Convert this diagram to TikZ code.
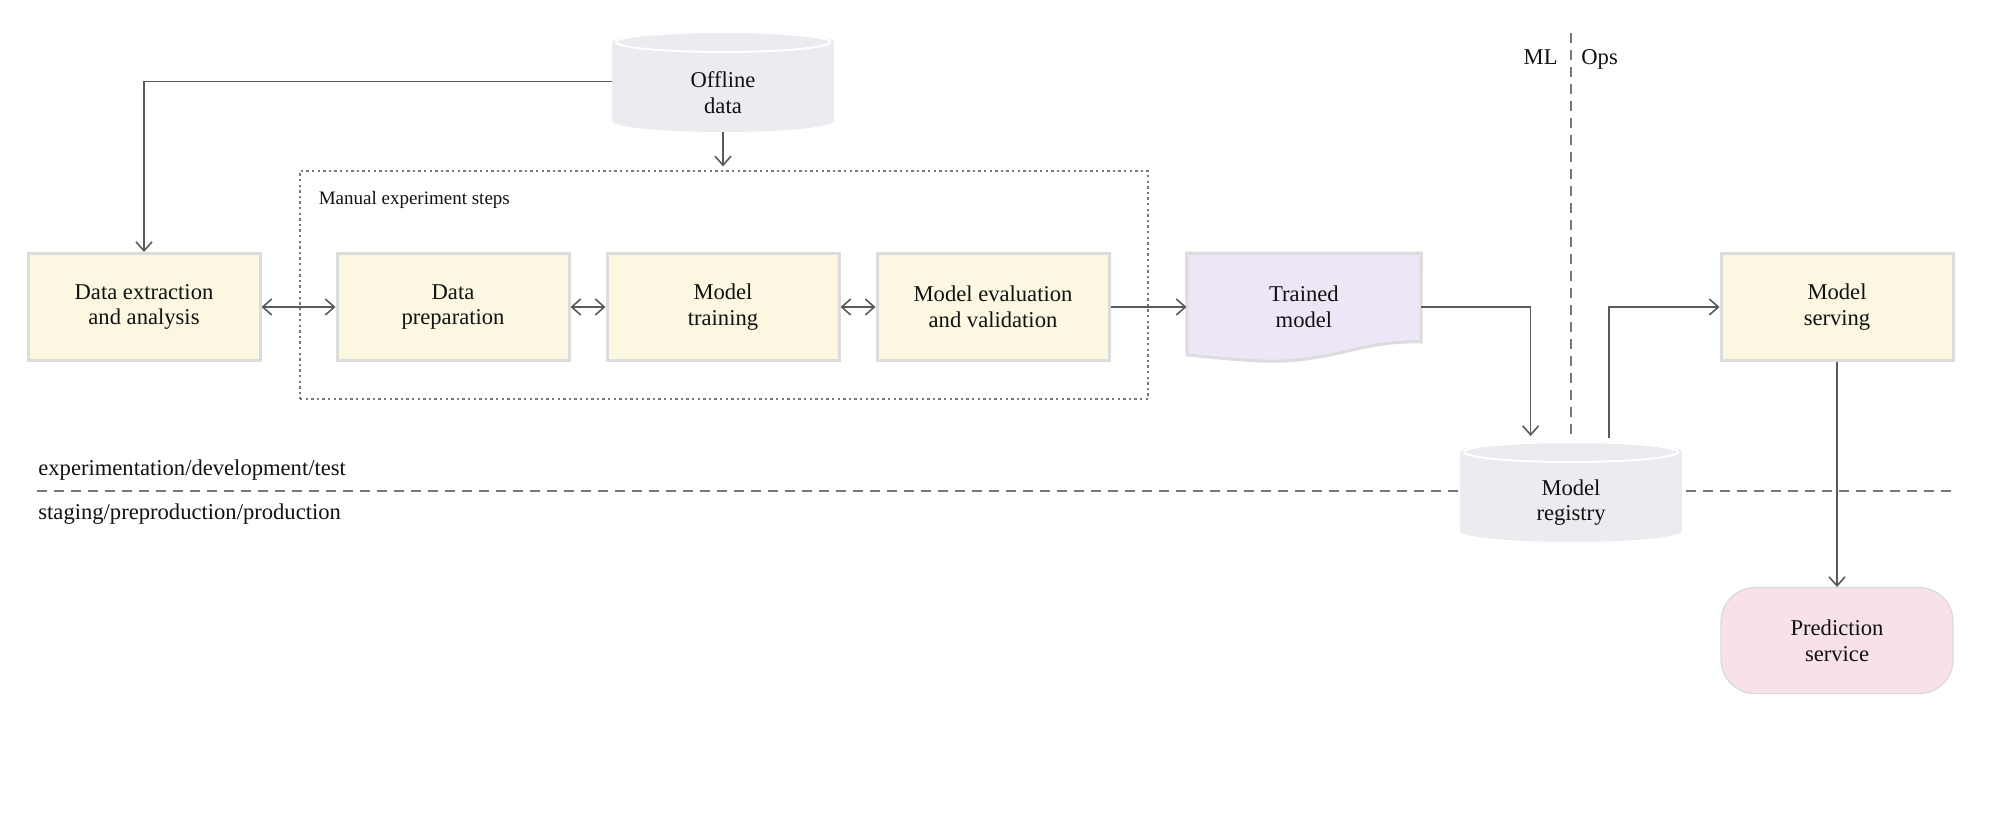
\documentclass[tikz,border=0pt]{standalone}
\usepackage{fontspec}
\setmainfont{Liberation Serif}
\usetikzlibrary{
  arrows.meta,
  positioning,
  calc,
  backgrounds
}
\definecolor{boxfill}{HTML}{FCF7E1}
\definecolor{boxline}{HTML}{DCDCDC}
\definecolor{dbfill}{HTML}{EBECEF}
\definecolor{modelfill}{HTML}{ECE6F6}
\definecolor{predfill}{HTML}{F9E1EB}
\definecolor{predline}{HTML}{D9D9D9}
\definecolor{arrowcolor}{HTML}{5A5A5A}
\definecolor{divcolor}{HTML}{777777}
\definecolor{textprimary}{HTML}{111111}
\pgfdeclarelayer{background}
\pgfsetlayers{background,main}
% cylinder body drawn round a db node
\newcommand{\dbcyl}[1]{%
  \fill[dbfill] ([yshift=-5.5pt]#1.north west) -- ([yshift=5.5pt]#1.south west)
    arc[start angle=180, end angle=360, x radius=55.5pt, y radius=5.5pt]
    -- ([yshift=-5.5pt]#1.north east)
    arc[start angle=0, end angle=180, x radius=55.5pt, y radius=5.5pt] -- cycle;
  \draw[white, line width=1pt] ([yshift=-5.5pt]#1.north) ellipse[x radius=53.5pt, y radius=5pt];
}
\tikzset{
  base/.style={
    text=textprimary,
    font=\fontsize{11.3}{12.8}\selectfont,
    align=center,
    inner sep=0pt,
  },
  proc/.style={
    base,
    fill=boxfill,
    draw=boxline,
    line width=1.5pt,
    minimum width=116pt,
    minimum height=53.5pt,
  },
  db/.style={
    minimum width=111pt,
    minimum height=50.5pt,
    outer sep=0pt,
  },
  dbtext/.style={
    base,
    yshift=-5.5pt,
  },
  doc/.style={
    base,
    minimum width=117pt,
    minimum height=53.5pt,
  },
  term/.style={
    base,
    fill=predfill,
    draw=predline,
    line width=0.6pt,
    rounded corners=17pt,
    minimum width=116pt,
    minimum height=53pt,
  },
  group/.style={
    draw=divcolor,
    line width=0.6pt,
    dash pattern=on 1.2pt off 1.6pt,
    minimum width=424pt,
    minimum height=114pt,
  },
  glabel/.style={
    font=\fontsize{9.5}{11}\selectfont,
    text=textprimary,
    anchor=west,
    inner sep=0pt,
  },
  zonelabel/.style={
    base,
    anchor=west,
  },
  divider/.style={
    draw=divcolor,
    line width=0.8pt,
    dash pattern=on 5pt off 3.5pt,
  },
  flow/.style={
    -{Straight Barb[length=4.5pt, width=8pt]},
    line width=0.8pt,
    draw=arrowcolor,
  },
  flowbidi/.style={
    {Straight Barb[length=4.5pt, width=8pt]}-{Straight Barb[length=4.5pt, width=8pt]},
    line width=0.8pt,
    draw=arrowcolor,
  },
}

\begin{document}
\begin{tikzpicture}[x=1pt, y=1pt]
\useasboundingbox (0,0) rectangle (1000,416);

% === ROW 1: manual steps ===

\node[proc] (extract) at (72,262.5) {Data extraction\\and analysis};

\node[proc, right=37pt of extract] (prep) {Data\\preparation};

\node[proc, right=17.5pt of prep] (train) {Model\\training};

\node[proc, right=17.5pt of train] (eval) {Model evaluation\\and validation};

\node[doc, right=38pt of eval] (trained) {Trained\\model};

\node[proc] (serving) at (918.5,262.5) {Model\\serving};

\draw[flowbidi] (extract) -- (prep);
\draw[flowbidi] (prep) -- (train);
\draw[flowbidi] (train) -- (eval);
\draw[flow] (eval) -- (trained);

% === Manual experiment group ===

\node[group] (manual) at (362,273.5) {};
\node[glabel] (manualtitle) at ([xshift=9.5pt, yshift=-15pt]manual.north west) {Manual experiment steps};

% === Offline data ===

\node[db, above=60pt of train, label={[dbtext]center:Offline\\data}] (offline) {};

\draw[flow] (offline.west) -| (extract.north);
\draw[flow, shorten >=2pt] (offline.south) -- (offline.south |- manual.north);

% === Registry + serving ===

\node[db, label={[dbtext]center:Model\\registry}] (registry) at (785.5,170.25) {};

\node[term, below=112.5pt of serving] (prediction) {Prediction\\service};

\draw[flow] (trained.east) -| ([xshift=-20.2pt, yshift=2.5pt]registry.north);
\draw[flow] ([xshift=19pt, yshift=1.5pt]registry.north) |- (serving.west);
\draw[flow] (serving.south) -- (prediction.north);

% === Zones ===

\coordinate (mltop) at (785.5,399.5);
\coordinate (zoneleft) at (18.5,170.5);
\coordinate (zoneright) at (977.5,170.5);

\node[zonelabel, anchor=base east] (ml) at ([xshift=-6.5pt, yshift=-16pt]mltop) {ML};
\node[zonelabel, anchor=base west] (ops) at ([xshift=5pt, yshift=-16pt]mltop) {Ops};

\node[zonelabel] (devlabel) at ([xshift=0.5pt, yshift=10.7pt]zoneleft) {experimentation/development/test};
\node[zonelabel] (prodlabel) at ([xshift=0.5pt, yshift=-11.3pt]zoneleft) {staging/preproduction/production};

\begin{pgfonlayer}{background}
  \draw[divider] (mltop) -- (registry.north);
  \draw[divider] (zoneleft) -- (zoneright);
  \dbcyl{offline}
  \dbcyl{registry}
  \filldraw[fill=modelfill, draw=boxline, line width=1.5pt]
    (trained.north west) -- (trained.north east) -- (710.5,245)
    .. controls (680,246) and (665,234) .. (630,235.5)
    .. controls (612,236.5) and (600,238) .. (593.5,238.5) -- cycle;
\end{pgfonlayer}

\end{tikzpicture}
\end{document}
